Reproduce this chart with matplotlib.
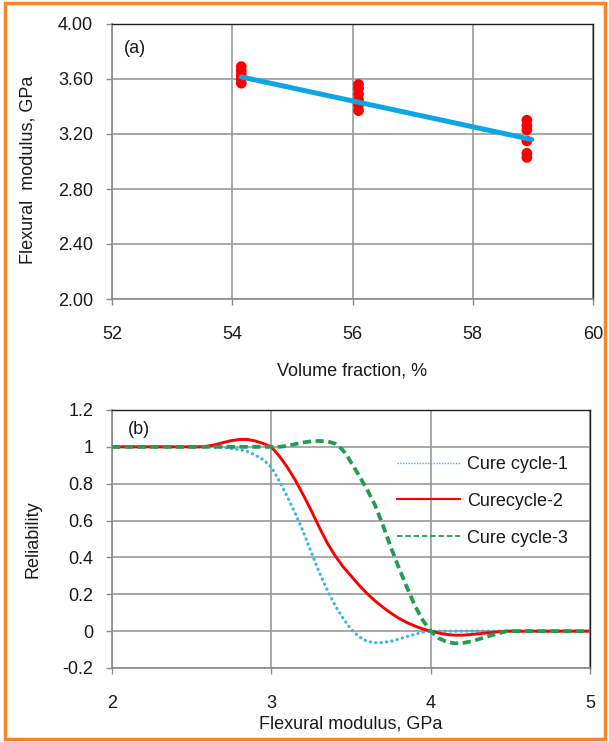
import matplotlib
matplotlib.use("Agg")
import matplotlib.pyplot as plt
from matplotlib.lines import Line2D
from matplotlib.patches import Rectangle
from matplotlib.ticker import FixedLocator, FormatStrFormatter

plt.rcParams['font.family'] = ['Liberation Sans', 'DejaVu Sans']
plt.rcParams['axes.unicode_minus'] = False

# ---- panel (a) data ----
vf_x = [54.15, 54.15, 54.15, 54.15, 54.15,
        56.1, 56.1, 56.1, 56.1, 56.1, 56.1,
        58.9, 58.9, 58.9, 58.9, 58.9, 58.9]
vf_mod = [3.57, 3.60, 3.63, 3.66, 3.69,
          3.37, 3.41, 3.45, 3.49, 3.53, 3.56,
          3.30, 3.26, 3.23, 3.15, 3.06, 3.03]
fit_x = [54.15, 58.98]
fit_y = [3.615, 3.16]
a_xticks = [52, 54, 56, 58, 60]
a_yticks = [2.00, 2.40, 2.80, 3.20, 3.60, 4.00]

# ---- panel (b) data ----
c1_x = [2.0, 2.6, 2.7, 2.8, 2.85, 2.9, 2.95, 3.0, 3.05, 3.1, 3.15, 3.2, 3.25, 3.3,
        3.35, 3.4, 3.45, 3.5, 3.55, 3.6, 3.65, 3.7, 3.75, 3.8, 3.85, 3.9, 3.95, 4.0, 5.0]
c1_y = [1.0, 1.0, 0.997, 0.985, 0.975, 0.955, 0.93, 0.89, 0.815, 0.73, 0.64, 0.54, 0.43, 0.32,
        0.225, 0.14, 0.07, 0.01, -0.03, -0.055, -0.063, -0.062, -0.055, -0.043, -0.03, -0.017,
        -0.006, 0.0, 0.0]

c2_x = [2.0, 2.55, 2.6, 2.65, 2.7, 2.75, 2.8, 2.85, 2.9, 2.95, 3.0, 3.05, 3.1, 3.15, 3.2,
        3.25, 3.3, 3.35, 3.4, 3.45, 3.5, 3.55, 3.6, 3.65, 3.7, 3.75, 3.8, 3.85, 3.9, 3.95,
        4.0, 4.05, 4.1, 4.15, 4.2, 4.27, 4.35, 4.42, 4.48, 5.0]
c2_y = [1.0, 1.0, 1.004, 1.012, 1.024, 1.034, 1.04, 1.04, 1.032, 1.018, 1.0, 0.95, 0.89,
        0.82, 0.74, 0.655, 0.565, 0.48, 0.41, 0.35, 0.30, 0.25, 0.205, 0.165, 0.13, 0.098,
        0.07, 0.047, 0.028, 0.012, 0.0, -0.01, -0.018, -0.022, -0.022, -0.017, -0.01,
        -0.004, 0.0, 0.0]

c3_x = [2.0, 3.05, 3.1, 3.15, 3.2, 3.25, 3.3, 3.35, 3.4, 3.44, 3.47, 3.5, 3.55, 3.6, 3.65,
        3.7, 3.75, 3.8, 3.85, 3.9, 3.95, 4.0, 4.05, 4.1, 4.15, 4.2, 4.27, 4.33, 4.4, 4.48, 5.0]
c3_y = [1.0, 1.0, 1.006, 1.015, 1.024, 1.03, 1.032, 1.03, 1.018, 0.99, 0.96, 0.916, 0.845,
        0.77, 0.685, 0.575, 0.455, 0.345, 0.24, 0.14, 0.06, 0.0, -0.038, -0.058, -0.066,
        -0.065, -0.052, -0.036, -0.018, 0.0, 0.0]

series_labels = ['Cure cycle-1', 'Curecycle-2', 'Cure cycle-3']
b_xticks = [2, 3, 4, 5]
b_yticks = [-0.2, 0, 0.2, 0.4, 0.6, 0.8, 1.0, 1.2]

FS = 13
GRID = '#9a9a9a'
TXT = '#1a1a1a'

fig = plt.figure(figsize=(6.09, 7.42), dpi=100)
fig.patch.set_facecolor('white')

def style_axes(ax):
    ax.set_facecolor('white')
    ax.grid(True, color=GRID, linewidth=1.2, zorder=0)
    ax.set_axisbelow(True)
    for s in ['top', 'right']:
        ax.spines[s].set_color('#202020')
        ax.spines[s].set_linewidth(1.0)
    for s in ['left', 'bottom']:
        ax.spines[s].set_color('#8a8a8a')
        ax.spines[s].set_linewidth(1.2)
    ax.tick_params(axis='both', direction='out', length=4.5, width=1.0,
                   color='#8a8a8a', labelsize=FS, labelcolor=TXT)

# ---- panel (a) ----
axa = fig.add_axes([112/609, 1-299/742, 481/609, 275/742])
style_axes(axa)
axa.scatter(vf_x, vf_mod, s=60, color='#ff0000', edgecolors='none', zorder=3)
axa.plot(fit_x, fit_y, color='#0ea5e6', linewidth=3.6, solid_capstyle='round', zorder=4)
axa.set_xlim(52, 60)
axa.set_ylim(2.0, 4.0)
axa.xaxis.set_major_locator(FixedLocator(a_xticks))
axa.yaxis.set_major_locator(FixedLocator(a_yticks))
axa.yaxis.set_major_formatter(FormatStrFormatter('%.2f'))
axa.tick_params(axis='x', pad=15)
axa.tick_params(axis='y', pad=9)
axa.set_xlabel('Volume fraction, %', fontsize=FS, color=TXT)
axa.set_ylabel('Flexural  modulus, GPa', fontsize=FS, color=TXT)
axa.xaxis.set_label_coords(0.5, -0.262)
axa.xaxis.label.set_va('center')
axa.yaxis.set_label_coords(-0.175, 0.469)
axa.yaxis.label.set_va('center')
axa.text(0.025, 0.91, '(a)', transform=axa.transAxes, fontsize=FS, color=TXT,
         ha='left', va='center')

# ---- panel (b) ----
axb = fig.add_axes([112/609, 1-668/742, 478/609, 258/742])
style_axes(axb)
axb.plot(c1_x, c1_y, color='#39b6ef', linewidth=2.3, linestyle=(0, (0.1, 1.6)),
         dash_capstyle='round', zorder=3)
axb.plot(c2_x, c2_y, color='#ff0000', linewidth=2.1, zorder=4)
axb.plot(c3_x, c3_y, color='#1f9e4f', linewidth=2.7, linestyle=(0, (2.2, 1.2)),
         zorder=5)
axb.set_xlim(2, 5)
axb.set_ylim(-0.2, 1.2)
axb.xaxis.set_major_locator(FixedLocator(b_xticks))
axb.yaxis.set_major_locator(FixedLocator(b_yticks))
axb.yaxis.set_major_formatter(FormatStrFormatter('%g'))
axb.tick_params(axis='x', pad=15)
axb.tick_params(axis='y', pad=9)
axb.set_xlabel('Flexural modulus, GPa', fontsize=FS, color=TXT)
axb.set_ylabel('Reliability', fontsize=FS, color=TXT)
axb.xaxis.set_label_coords(0.5, -0.217)
axb.xaxis.label.set_va('center')
axb.yaxis.set_label_coords(-0.165, 0.5)
axb.yaxis.label.set_va('center')
axb.text(0.033, 0.926, '(b)', transform=axb.transAxes, fontsize=FS, color=TXT,
         ha='left', va='center')

handles = [
    Line2D([], [], color='#39b6ef', linewidth=1.0, linestyle=(0, (1, 1))),
    Line2D([], [], color='#ff0000', linewidth=1.5),
    Line2D([], [], color='#1f9e4f', linewidth=1.3, linestyle=(0, (3, 1.6))),
]
axb.legend(handles, series_labels, loc='upper left', bbox_to_anchor=(0.596, 0.822),
           frameon=False, fontsize=FS, handlelength=3.5, handletextpad=0.4,
           labelspacing=1.1, borderpad=0, borderaxespad=0, labelcolor=TXT)

# orange frame around the figure
fig.patches.append(Rectangle((5/609, 3/742), 600/609, 736/742, transform=fig.transFigure,
                             fill=False, edgecolor='#f5862b', linewidth=2.5, zorder=10))

fig.savefig('out.png', dpi=100)
